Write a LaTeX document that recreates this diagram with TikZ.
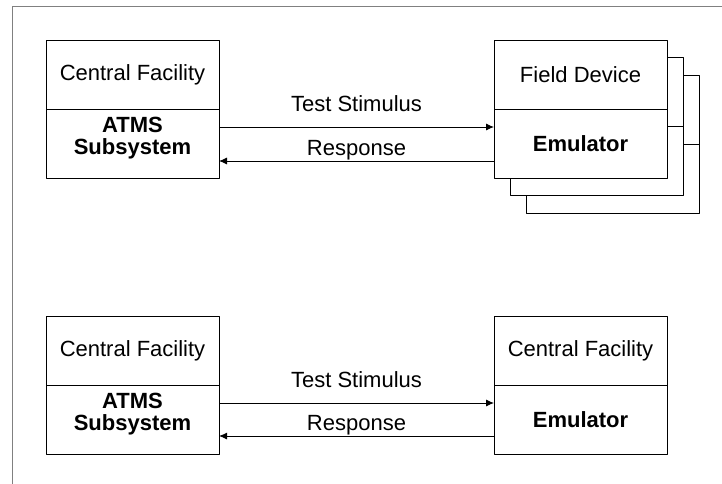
\documentclass[tikz,border=0pt]{standalone}
\usepackage{fontspec}
\setmainfont{Liberation Sans}
\usetikzlibrary{positioning,arrows.meta}
\tikzset{
  half/.style={draw, fill=white, minimum width=173pt, minimum height=69pt,
    inner sep=0pt, outer sep=0pt, align=center,
    font=\fontsize{22}{22}\selectfont},
  boldhalf/.style={half, font=\fontsize{22}{22}\selectfont\bfseries},
  twoline/.style={boldhalf, text height=37.8pt, text depth=15.5pt},
  link/.style={-{Latex[length=8pt,width=7pt]}},
  msg/.style={anchor=base, inner sep=0pt, font=\fontsize{22}{22}\selectfont}
}
\begin{document}
\begin{tikzpicture}[x=1pt, y=-1pt, line join=round, line width=0.9pt]
  \useasboundingbox (0,0) rectangle (722,484);
  \draw[gray] (12,484) -- (12,6) -- (722,6);
  % field device stack
  \foreach \k in {2,1} {
    \node[half] (stack\k-top) at (580.5+16*\k, 74.5+17.5*\k) {};
    \node[half, below=0pt of stack\k-top] (stack\k-bot) {};
  }
  \node[half] (atms1-top) at (132.5,74.5) {Central Facility};
  \node[twoline, below=0pt of atms1-top] (atms1-bot) {ATMS\\Subsystem};
  \node[half] (emu1-top) at (580.5,74.5) {Field Device};
  \node[boldhalf, below=0pt of emu1-top] (emu1-bot) {Emulator};
  \draw[link] ([yshift=16.5pt]atms1-bot.east) -- ([yshift=16.5pt]emu1-bot.west)
    node[msg, midway, yshift=16pt] {Test Stimulus};
  \draw[link] ([yshift=-17.5pt]emu1-bot.west) -- ([yshift=-17.5pt]atms1-bot.east)
    node[msg, midway, yshift=6pt] {Response};
  % central facility emulator
  \node[half] (atms2-top) at (132.5,350.5) {Central Facility};
  \node[twoline, below=0pt of atms2-top] (atms2-bot) {ATMS\\Subsystem};
  \node[half] (emu2-top) at (580.5,350.5) {Central Facility};
  \node[boldhalf, below=0pt of emu2-top] (emu2-bot) {Emulator};
  \draw[link] ([yshift=16.5pt]atms2-bot.east) -- ([yshift=16.5pt]emu2-bot.west)
    node[msg, midway, yshift=16pt] {Test Stimulus};
  \draw[link] ([yshift=-16.5pt]emu2-bot.west) -- ([yshift=-16.5pt]atms2-bot.east)
    node[msg, midway, yshift=6pt] {Response};
\end{tikzpicture}
\end{document}
